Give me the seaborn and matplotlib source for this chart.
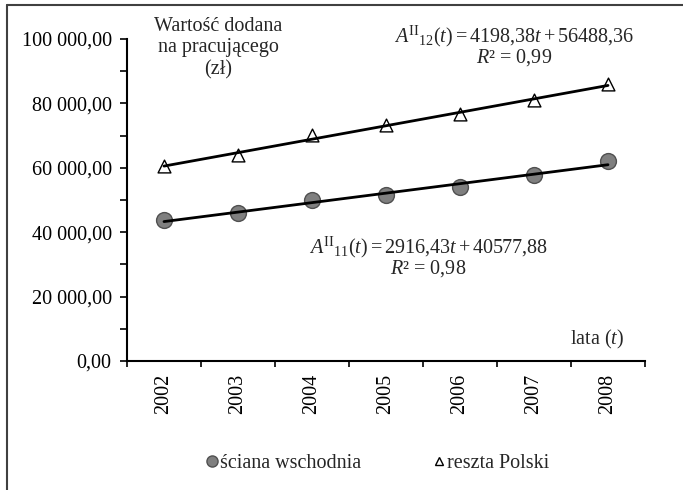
import numpy as np
import pandas as pd
import matplotlib
matplotlib.use("Agg")
import matplotlib.pyplot as plt
from matplotlib.lines import Line2D
from matplotlib.ticker import FixedLocator, FuncFormatter
import seaborn as sns

# data
years = ['2002', '2003', '2004', '2005', '2006', '2007', '2008']
t = [1, 2, 3, 4, 5, 6, 7]
sciana_wschodnia = [43700, 46100, 49900, 51500, 53900, 57700, 62100]
reszta_polski = [60600, 63900, 70100, 73200, 76600, 81000, 86000]

sns.set_theme(style="ticks")
plt.rcParams.update({
    'font.family': ['Liberation Serif', 'DejaVu Serif'],
    'mathtext.fontset': 'custom',
    'mathtext.rm': 'Liberation Serif',
    'mathtext.it': 'Liberation Serif:italic',
    'font.size': 14.5,
    'axes.edgecolor': 'black',
    'axes.linewidth': 1.5,
    'xtick.color': 'black',
    'ytick.color': 'black',
})
FS = 14.5

W, H = 683, 490
fig = plt.figure(figsize=(W / 100, H / 100), dpi=100)
ax = fig.add_axes([127 / W, 1 - 361 / H, 518 / W, 322 / H])

df = pd.DataFrame({'t': t, 'sw': sciana_wschodnia, 'rp': reszta_polski})

sns.scatterplot(data=df, x='t', y='sw', ax=ax, marker='o', s=130,
                color='#7f7f7f', edgecolor='#505050', linewidth=1.0, zorder=3)
sns.scatterplot(data=df, x='t', y='rp', ax=ax, marker='^', s=85,
                color='white', edgecolor='black', linewidth=1.0, zorder=3)
sns.regplot(data=df, x='t', y='sw', ax=ax, scatter=False, ci=None,
            line_kws={'color': 'black', 'lw': 2.0, 'zorder': 4})
sns.regplot(data=df, x='t', y='rp', ax=ax, scatter=False, ci=None,
            line_kws={'color': 'black', 'lw': 2.0, 'zorder': 4})

ax.set_xlim(0.5, 7.5)
ax.set_ylim(0, 100000)
ax.set_xlabel('')
ax.set_ylabel('')
sns.despine(ax=ax)

# x axis: tick marks between years, labels at centres
ax.xaxis.set_major_locator(FixedLocator(np.arange(0.5, 8, 1)))
ax.xaxis.set_major_formatter(FuncFormatter(lambda v, p: ''))
ax.xaxis.set_minor_locator(FixedLocator(t))
ax.set_xticklabels(years, minor=True, rotation=90)
ax.tick_params(axis='x', which='major', length=4, width=1.2, direction='out')
ax.tick_params(axis='x', which='minor', length=0, pad=9, labelsize=FS)

ax.yaxis.set_major_locator(FixedLocator(np.arange(0, 100001, 20000)))
ax.yaxis.set_minor_locator(FixedLocator(np.arange(10000, 100000, 20000)))
ax.yaxis.set_major_formatter(FuncFormatter(
    lambda v, p: f"{v:,.2f}".replace(',', ' ').replace('.', ',')))
ax.tick_params(axis='y', which='both', length=5, width=1.2, direction='out', pad=6,
               labelsize=FS)


def ptext(x, y, s, **kw):
    fig.text(x / W, 1 - y / H, s, ha='center', va='center', fontsize=FS, **kw)


ptext(218, 48, 'Wartość dodana\nna pracującego\n(zł)', linespacing=1.2)
ptext(514, 36, r'$A^{\mathrm{II}}{}_{12}(t) = 4198{,}38t + 56488{,}36$')
ptext(514, 58, r'$R$² = 0,99')
ptext(428, 247, r'$A^{\mathrm{II}}{}_{11}(t) = 2916{,}43t + 40577{,}88$')
ptext(428, 269, r'$R$² = 0,98')
ptext(597, 339, r'lata ($t$)')

handles = [
    Line2D([], [], marker='o', ls='', markersize=8, markerfacecolor='#7f7f7f',
           markeredgecolor='#505050'),
    Line2D([], [], marker='^', ls='', markersize=6, markerfacecolor='white',
           markeredgecolor='black'),
]
fig.legend(handles, ['ściana wschodnia', 'reszta Polski'], loc='center',
           bbox_to_anchor=(378 / W, 1 - 463 / H), ncol=2, frameon=False,
           handlelength=0.5, handletextpad=0.15, columnspacing=3.6, fontsize=FS)

# outer frame (left and top)
fig.add_artist(Line2D([7 / W, 7 / W], [0, 1 - 5 / H], color='#404040', lw=1.5,
                      transform=fig.transFigure))
fig.add_artist(Line2D([7 / W, 1], [1 - 5 / H, 1 - 5 / H], color='#404040', lw=1.5,
                      transform=fig.transFigure))

fig.savefig('out.png', dpi=100, facecolor='white')
